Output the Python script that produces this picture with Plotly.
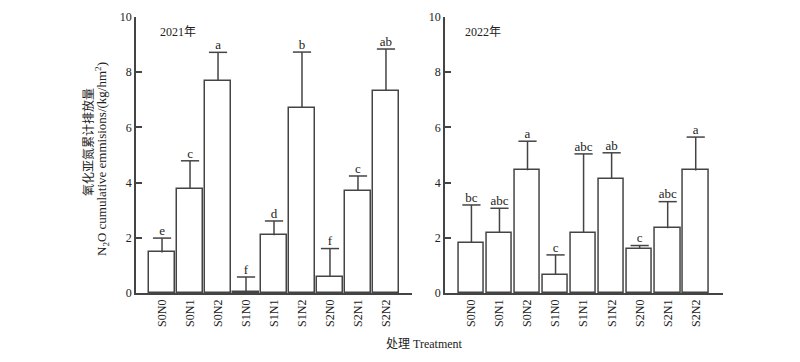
import plotly.graph_objects as go

categories = ["S0N0", "S0N1", "S0N2", "S1N0", "S1N1", "S1N2", "S2N0", "S2N1", "S2N2"]

values_2021 = [1.47, 3.77, 7.69, 0.05, 2.09, 6.71, 0.59, 3.71, 7.32]
err_2021 = [0.52, 1.02, 1.03, 0.53, 0.52, 2.02, 1.02, 0.53, 1.52]
letters_2021 = ["e", "c", "a", "f", "d", "b", "f", "c", "ab"]

values_2022 = [1.81, 2.19, 4.45, 0.65, 2.17, 4.13, 1.60, 2.35, 4.44]
err_2022 = [1.38, 0.88, 1.05, 0.73, 2.87, 0.95, 0.12, 0.96, 1.21]
letters_2022 = ["bc", "abc", "a", "c", "abc", "ab", "c", "abc", "a"]

y_ticks = [0, 2, 4, 6, 8, 10]

FONT = "Liberation Serif, Times New Roman, Noto Sans CJK SC, serif"
AX = "#444444"

fig = go.Figure()

panels = [
    ("x", "y", values_2021, err_2021, letters_2021),
    ("x2", "y2", values_2022, err_2022, letters_2022),
]
for xa, ya, vals, errs, lets in panels:
    tops = [v + e for v, e in zip(vals, errs)]
    fig.add_trace(go.Bar(
        x=categories, y=vals, xaxis=xa, yaxis=ya, width=0.9,
        marker=dict(color="white", line=dict(color=AX, width=1.5)),
        error_y=dict(type="data", array=errs, arrayminus=[0] * len(errs),
                     symmetric=False, color=AX, thickness=1.5, width=0),
        showlegend=False, hoverinfo="skip",
    ))
    fig.add_trace(go.Scatter(
        x=categories, y=tops, xaxis=xa, yaxis=ya, mode="markers",
        marker=dict(symbol="line-ew", size=13, line=dict(color=AX, width=1.5)),
        showlegend=False, cliponaxis=False, hoverinfo="skip",
    ))
    fig.add_trace(go.Scatter(
        x=categories, y=tops, xaxis=xa, yaxis=ya,
        mode="text", text=lets, textposition="top center",
        textfont=dict(family=FONT, size=13, color="#222"),
        showlegend=False, cliponaxis=False, hoverinfo="skip",
    ))

ydom = [0.1906, 0.953]
common_x = dict(type="category", showline=True, linecolor=AX, linewidth=1.5,
                ticks="", tickangle=-90, showgrid=False, zeroline=False, automargin=False,
                tickfont=dict(family=FONT, size=12, color="#222"))
common_y = dict(range=[0, 10], tickvals=y_ticks, showline=True, linecolor=AX,
                linewidth=1.5, ticks="inside", ticklen=6, tickwidth=1.5,
                tickcolor=AX, showgrid=False, zeroline=False, automargin=False,
                tickfont=dict(family=FONT, size=12, color="#222"), domain=ydom)

fig.update_layout(
    width=800, height=362,
    margin=dict(l=0, r=0, t=0, b=0, autoexpand=False),
    paper_bgcolor="white", plot_bgcolor="white",
    bargap=0,
    xaxis=dict(common_x, domain=[0.17, 0.515], range=[-0.93, 8.93], anchor="y"),
    yaxis=dict(common_y, anchor="x"),
    xaxis2=dict(common_x, domain=[0.556, 0.904], range=[-0.95, 8.98], anchor="y2"),
    yaxis2=dict(common_y, anchor="x2"),
    annotations=[
        dict(text="2021年", x=158 / 800, y=1 - 32 / 362, xref="paper", yref="paper",
             xanchor="left", yanchor="middle", showarrow=False,
             font=dict(family=FONT, size=12, color="#222")),
        dict(text="2022年", x=463 / 800, y=1 - 32 / 362, xref="paper", yref="paper",
             xanchor="left", yanchor="middle", showarrow=False,
             font=dict(family=FONT, size=12, color="#222")),
        dict(text="处理 Treatment", x=424 / 800, y=1 - 344 / 362, xref="paper", yref="paper",
             xanchor="center", yanchor="middle", showarrow=False,
             font=dict(family=FONT, size=12, color="#222")),
        dict(text="氧化亚氮累计排放量",
             x=88 / 800, y=1 - 142 / 362, xref="paper", yref="paper",
             xanchor="center", yanchor="middle", showarrow=False, textangle=-90,
             font=dict(family=FONT, size=12, color="#222")),
        dict(text="N<sub>2</sub>O cumulative emmisions/(kg/hm<sup>2</sup>)",
             x=102 / 800, y=1 - 159 / 362, xref="paper", yref="paper",
             xanchor="center", yanchor="middle", showarrow=False, textangle=-90,
             font=dict(family=FONT, size=13, color="#222")),
    ],
)

fig.write_html("out.html", config={"displayModeBar": False},
               post_script="document.body.style.margin='0';")
